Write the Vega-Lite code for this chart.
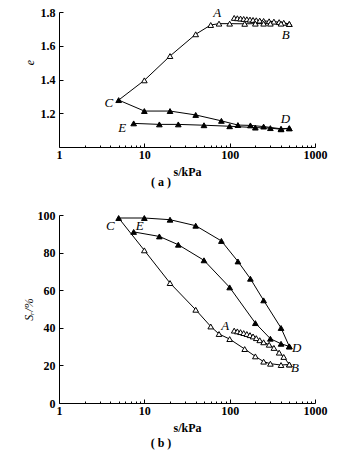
{
 "$schema": "https://vega.github.io/schema/vega-lite/v6.json",
 "padding": {"left": 22, "top": 6, "right": 5, "bottom": 5},
 "config": {
  "font": "Liberation Serif",
  "view": {"stroke": null},
  "concat": {"spacing": 21},
  "axis": {"grid": false, "domainColor": "black", "tickColor": "black", "labelColor": "black", "titleColor": "black", "labelFont": "Liberation Serif", "labelFontSize": 12, "labelFontWeight": "bold", "titleFont": "Liberation Serif", "titleFontSize": 12, "titleFontWeight": "bold", "domainWidth": 1, "tickWidth": 1, "labelOverlap": false, "labelFlush": false},
  "title": {"font": "Liberation Serif", "fontSize": 12, "fontWeight": "bold", "color": "black"}
 },
 "datasets": {
  "ea": [
   {"series": "AB", "i": 1, "s": 113, "v": 1.765, "type": "open"},
   {"series": "AB", "i": 2, "s": 123, "v": 1.763, "type": "open"},
   {"series": "AB", "i": 3, "s": 134, "v": 1.761, "type": "open"},
   {"series": "AB", "i": 4, "s": 146, "v": 1.759, "type": "open"},
   {"series": "AB", "i": 5, "s": 159, "v": 1.757, "type": "open"},
   {"series": "AB", "i": 6, "s": 173, "v": 1.755, "type": "open"},
   {"series": "AB", "i": 7, "s": 188, "v": 1.753, "type": "open"},
   {"series": "AB", "i": 8, "s": 205, "v": 1.751, "type": "open"},
   {"series": "AB", "i": 9, "s": 225, "v": 1.749, "type": "open"},
   {"series": "AB", "i": 10, "s": 250, "v": 1.747, "type": "open"},
   {"series": "AB", "i": 11, "s": 290, "v": 1.745, "type": "open"},
   {"series": "AB", "i": 12, "s": 330, "v": 1.743, "type": "open"},
   {"series": "AB", "i": 13, "s": 380, "v": 1.740, "type": "open"},
   {"series": "AB", "i": 14, "s": 430, "v": 1.736, "type": "open"},
   {"series": "AB", "i": 15, "s": 500, "v": 1.729, "type": "open"},
   {"series": "BC", "i": 1, "s": 500, "v": 1.729, "type": "open"},
   {"series": "BC", "i": 2, "s": 400, "v": 1.731, "type": "open"},
   {"series": "BC", "i": 3, "s": 300, "v": 1.731, "type": "open"},
   {"series": "BC", "i": 4, "s": 250, "v": 1.731, "type": "open"},
   {"series": "BC", "i": 5, "s": 200, "v": 1.731, "type": "open"},
   {"series": "BC", "i": 6, "s": 150, "v": 1.730, "type": "open"},
   {"series": "BC", "i": 7, "s": 100, "v": 1.731, "type": "open"},
   {"series": "BC", "i": 8, "s": 75, "v": 1.731, "type": "open"},
   {"series": "BC", "i": 9, "s": 60, "v": 1.723, "type": "open"},
   {"series": "BC", "i": 10, "s": 40, "v": 1.668, "type": "open"},
   {"series": "BC", "i": 11, "s": 20, "v": 1.539, "type": "open"},
   {"series": "BC", "i": 12, "s": 10, "v": 1.395, "type": "open"},
   {"series": "CD", "i": 1, "s": 5, "v": 1.278, "type": "filled"},
   {"series": "CD", "i": 2, "s": 10, "v": 1.213, "type": "filled"},
   {"series": "CD", "i": 3, "s": 20, "v": 1.213, "type": "filled"},
   {"series": "CD", "i": 4, "s": 40, "v": 1.19, "type": "filled"},
   {"series": "CD", "i": 5, "s": 80, "v": 1.155, "type": "filled"},
   {"series": "CD", "i": 6, "s": 125, "v": 1.130, "type": "filled"},
   {"series": "CD", "i": 7, "s": 175, "v": 1.128, "type": "filled"},
   {"series": "CD", "i": 8, "s": 250, "v": 1.121, "type": "filled"},
   {"series": "CD", "i": 9, "s": 400, "v": 1.108, "type": "filled"},
   {"series": "CD", "i": 10, "s": 500, "v": 1.111, "type": "filled"},
   {"series": "DE", "i": 1, "s": 500, "v": 1.111, "type": "filled"},
   {"series": "DE", "i": 2, "s": 400, "v": 1.105, "type": "filled"},
   {"series": "DE", "i": 3, "s": 300, "v": 1.112, "type": "filled"},
   {"series": "DE", "i": 4, "s": 200, "v": 1.115, "type": "filled"},
   {"series": "DE", "i": 5, "s": 100, "v": 1.123, "type": "filled"},
   {"series": "DE", "i": 6, "s": 50, "v": 1.129, "type": "filled"},
   {"series": "DE", "i": 7, "s": 25, "v": 1.134, "type": "filled"},
   {"series": "DE", "i": 8, "s": 15, "v": 1.134, "type": "filled"},
   {"series": "DE", "i": 9, "s": 7.5, "v": 1.140, "type": "filled"},
   {"series": "BCjoin", "i": 1, "s": 10, "v": 1.395, "type": "none"},
   {"series": "BCjoin", "i": 2, "s": 5, "v": 1.278, "type": "none"}
  ],
  "la": [
   {"label": "A", "s": 71.5, "v": 1.792},
   {"label": "B", "s": 453, "v": 1.662},
   {"label": "C", "s": 3.84, "v": 1.259},
   {"label": "D", "s": 450, "v": 1.164},
   {"label": "E", "s": 5.5, "v": 1.115}
  ],
  "sb": [
   {"series": "AB", "i": 1, "s": 113, "v": 38.5, "type": "open"},
   {"series": "AB", "i": 2, "s": 123, "v": 38.1, "type": "open"},
   {"series": "AB", "i": 3, "s": 134, "v": 37.7, "type": "open"},
   {"series": "AB", "i": 4, "s": 146, "v": 37.2, "type": "open"},
   {"series": "AB", "i": 5, "s": 159, "v": 36.7, "type": "open"},
   {"series": "AB", "i": 6, "s": 173, "v": 36.1, "type": "open"},
   {"series": "AB", "i": 7, "s": 188, "v": 35.4, "type": "open"},
   {"series": "AB", "i": 8, "s": 205, "v": 34.5, "type": "open"},
   {"series": "AB", "i": 9, "s": 225, "v": 33.4, "type": "open"},
   {"series": "AB", "i": 10, "s": 250, "v": 32.3, "type": "open"},
   {"series": "AB", "i": 11, "s": 290, "v": 31.0, "type": "open"},
   {"series": "AB", "i": 12, "s": 330, "v": 29.3, "type": "open"},
   {"series": "AB", "i": 13, "s": 380, "v": 26.8, "type": "open"},
   {"series": "AB", "i": 14, "s": 430, "v": 24.5, "type": "open"},
   {"series": "AB", "i": 15, "s": 500, "v": 20.5, "type": "open"},
   {"series": "BC", "i": 1, "s": 500, "v": 20.5, "type": "open"},
   {"series": "BC", "i": 2, "s": 400, "v": 20.2, "type": "open"},
   {"series": "BC", "i": 3, "s": 300, "v": 20.9, "type": "open"},
   {"series": "BC", "i": 4, "s": 250, "v": 22.0, "type": "open"},
   {"series": "BC", "i": 5, "s": 200, "v": 24.8, "type": "open"},
   {"series": "BC", "i": 6, "s": 150, "v": 28.7, "type": "open"},
   {"series": "BC", "i": 7, "s": 100, "v": 34.0, "type": "open"},
   {"series": "BC", "i": 8, "s": 75, "v": 36.7, "type": "open"},
   {"series": "BC", "i": 9, "s": 60, "v": 40.7, "type": "open"},
   {"series": "BC", "i": 10, "s": 40, "v": 49.6, "type": "open"},
   {"series": "BC", "i": 11, "s": 20, "v": 63.8, "type": "open"},
   {"series": "BC", "i": 12, "s": 10, "v": 81.2, "type": "open"},
   {"series": "BCjoin", "i": 1, "s": 10, "v": 81.2, "type": "none"},
   {"series": "BCjoin", "i": 2, "s": 5, "v": 98.4, "type": "none"},
   {"series": "CD", "i": 1, "s": 5, "v": 98.4, "type": "filled"},
   {"series": "CD", "i": 2, "s": 10, "v": 98.4, "type": "filled"},
   {"series": "CD", "i": 3, "s": 20, "v": 97.5, "type": "filled"},
   {"series": "CD", "i": 4, "s": 40, "v": 94.3, "type": "filled"},
   {"series": "CD", "i": 5, "s": 80, "v": 86.2, "type": "filled"},
   {"series": "CD", "i": 6, "s": 125, "v": 75.3, "type": "filled"},
   {"series": "CD", "i": 7, "s": 175, "v": 66.1, "type": "filled"},
   {"series": "CD", "i": 8, "s": 250, "v": 54.6, "type": "filled"},
   {"series": "CD", "i": 9, "s": 400, "v": 39.9, "type": "filled"},
   {"series": "CD", "i": 10, "s": 500, "v": 30.1, "type": "filled"},
   {"series": "DE", "i": 1, "s": 500, "v": 30.1, "type": "filled"},
   {"series": "DE", "i": 2, "s": 400, "v": 31.5, "type": "filled"},
   {"series": "DE", "i": 3, "s": 300, "v": 34.2, "type": "filled"},
   {"series": "DE", "i": 4, "s": 200, "v": 42.5, "type": "filled"},
   {"series": "DE", "i": 5, "s": 100, "v": 61.5, "type": "filled"},
   {"series": "DE", "i": 6, "s": 50, "v": 75.9, "type": "filled"},
   {"series": "DE", "i": 7, "s": 25, "v": 84.2, "type": "filled"},
   {"series": "DE", "i": 8, "s": 15, "v": 88.6, "type": "filled"},
   {"series": "DE", "i": 9, "s": 7.5, "v": 91.0, "type": "filled"}
  ],
  "lb": [
   {"label": "A", "s": 88.6, "v": 41.1},
   {"label": "B", "s": 582, "v": 18.6},
   {"label": "C", "s": 4.0, "v": 94.3},
   {"label": "D", "s": 610, "v": 29.3},
   {"label": "E", "s": 8.8, "v": 94.0}
  ]
 },
 "vconcat": [
  {
   "width": 256, "height": 135,
   "title": {"text": "( a )", "orient": "bottom", "anchor": "middle", "dx": -26, "offset": 0},
   "encoding": {
    "x": {"field": "s", "type": "quantitative", "scale": {"type": "log", "domain": [1, 1000]},
      "axis": {"title": "s/kPa", "values": [1,2,3,4,5,6,7,8,9,10,20,30,40,50,60,70,80,90,100,200,300,400,500,600,700,800,900,1000],
        "labelExpr": "(datum.value == 1 || datum.value == 10 || datum.value == 100 || datum.value == 1000) ? datum.label : ''",
        "format": "d", "labelOverlap": false,
        "tickSize": {"condition": {"test": "datum.value == 1 || datum.value == 10 || datum.value == 100 || datum.value == 1000", "value": -4}, "value": -2},
        "labelPadding": 6, "titlePadding": 4}},
    "y": {"field": "v", "type": "quantitative", "scale": {"domain": [1.0, 1.8]},
      "axis": {"title": "e", "titleFontStyle": "italic", "titleFontWeight": "normal", "titleY": 50, "values": [1.2, 1.4, 1.6, 1.8], "format": ".1f", "labelOverlap": false, "tickSize": -4, "labelPadding": 8, "titlePadding": 4}}
   },
   "layer": [
    {
     "data": {"name": "ea"},
     "mark": {"type": "line", "color": "black", "strokeWidth": 1},
     "encoding": {"detail": {"field": "series"}, "order": {"field": "i"}}
    },
    {
     "data": {"name": "ea"},
     "transform": [{"filter": "datum.type != 'none'"}],
     "mark": {"type": "point", "shape": "triangle-up", "size": 32, "filled": true, "stroke": "black", "strokeWidth": 1, "opacity": 1},
     "encoding": {
      "fill": {"field": "type", "type": "nominal", "scale": {"domain": ["open", "filled"], "range": ["white", "black"]}, "legend": null}
     }
    },
    {
     "data": {"name": "la"},
     "mark": {"type": "text", "font": "Liberation Serif", "fontStyle": "italic", "fontSize": 13, "color": "black"},
     "encoding": {"text": {"field": "label"}}
    }
   ]
  },
  {
   "width": 256, "height": 188,
   "title": {"text": "( b )", "orient": "bottom", "anchor": "middle", "dx": -26, "offset": 5},
   "encoding": {
    "x": {"field": "s", "type": "quantitative", "scale": {"type": "log", "domain": [1, 1000]},
      "axis": {"title": "s/kPa", "values": [1,2,3,4,5,6,7,8,9,10,20,30,40,50,60,70,80,90,100,200,300,400,500,600,700,800,900,1000],
        "labelExpr": "(datum.value == 1 || datum.value == 10 || datum.value == 100 || datum.value == 1000) ? datum.label : ''",
        "format": "d", "labelOverlap": false,
        "tickSize": {"condition": {"test": "datum.value == 1 || datum.value == 10 || datum.value == 100 || datum.value == 1000", "value": -4}, "value": -2},
        "labelPadding": 6, "titlePadding": 4}},
    "y": {"field": "v", "type": "quantitative", "scale": {"domain": [0, 100]},
      "axis": {"title": "Sᵣ/%", "titleFontStyle": "italic", "titleFontWeight": "normal", "values": [0, 20, 40, 60, 80, 100], "format": "d", "labelOverlap": false, "tickSize": -4, "labelPadding": 8, "titlePadding": 2}}
   },
   "layer": [
    {
     "data": {"name": "sb"},
     "mark": {"type": "line", "color": "black", "strokeWidth": 1},
     "encoding": {"detail": {"field": "series"}, "order": {"field": "i"}}
    },
    {
     "data": {"name": "sb"},
     "transform": [{"filter": "datum.type != 'none'"}],
     "mark": {"type": "point", "shape": "triangle-up", "size": 32, "filled": true, "stroke": "black", "strokeWidth": 1, "opacity": 1},
     "encoding": {
      "fill": {"field": "type", "type": "nominal", "scale": {"domain": ["open", "filled"], "range": ["white", "black"]}, "legend": null}
     }
    },
    {
     "data": {"name": "lb"},
     "mark": {"type": "text", "font": "Liberation Serif", "fontStyle": "italic", "fontSize": 13, "color": "black"},
     "encoding": {"text": {"field": "label"}}
    }
   ]
  }
 ]
}
